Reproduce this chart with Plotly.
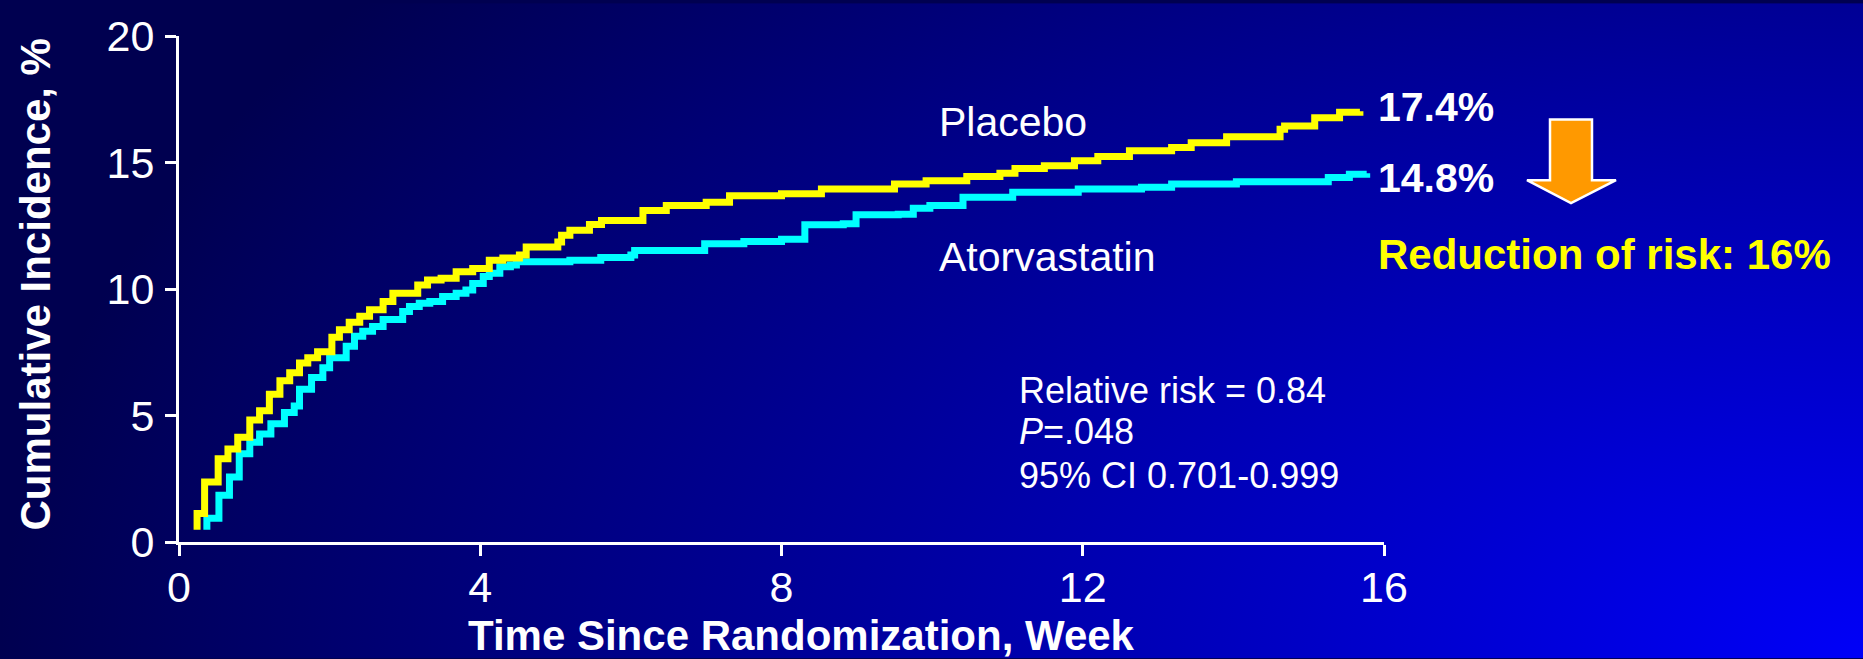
import base64
import plotly.graph_objects as go

# ---------------- data ----------------
placebo_weeks = [0.24, 0.24, 0.34, 0.52, 0.65, 0.78, 0.94, 1.07, 1.20, 1.34, 1.47, 1.60, 1.71, 1.84,
                 2.03, 2.13, 2.26, 2.40, 2.53, 2.71, 2.84, 3.17, 3.30, 3.48, 3.68, 3.90, 4.12, 4.30,
                 4.52, 4.61, 5.03, 5.08, 5.19, 5.45, 5.61, 6.16, 6.47, 7.00, 7.31, 8.00, 8.53, 9.50,
                 9.92, 10.46, 10.90, 11.10, 11.49, 11.89, 12.20, 12.62, 13.18, 13.44, 13.91, 14.62,
                 14.68, 15.08, 15.41, 15.68]
placebo_incidence = [0.48, 1.13, 2.37, 3.29, 3.68, 4.14, 4.82, 5.19, 5.84, 6.37, 6.69, 7.08, 7.28, 7.52,
                     8.09, 8.39, 8.69, 8.92, 9.18, 9.51, 9.83, 10.16, 10.36, 10.42, 10.68, 10.81, 11.14,
                     11.23, 11.34, 11.66, 11.86, 12.12, 12.32, 12.55, 12.71, 13.10, 13.30, 13.43, 13.69,
                     13.76, 13.95, 14.15, 14.28, 14.45, 14.58, 14.76, 14.87, 15.07, 15.24, 15.46, 15.59,
                     15.78, 16.02, 16.31, 16.44, 16.77, 16.99, 17.03]

atorva_weeks = [0.37, 0.37, 0.53, 0.67, 0.80, 0.94, 1.07, 1.22, 1.40, 1.53, 1.60, 1.76, 1.91, 2.00,
                2.22, 2.33, 2.44, 2.57, 2.71, 2.97, 3.06, 3.19, 3.33, 3.50, 3.68, 3.81, 3.90, 4.04,
                4.12, 4.26, 4.40, 4.48, 5.19, 5.60, 6.00, 6.05, 6.98, 7.50, 8.00, 8.31, 8.82, 8.99,
                9.55, 9.75, 9.97, 10.41, 11.07, 11.94, 12.78, 13.18, 14.04, 15.26, 15.54, 15.77]
atorva_incidence = [0.48, 0.94, 1.85, 2.57, 3.49, 3.94, 4.27, 4.67, 5.12, 5.38, 6.04, 6.50, 6.89, 7.28,
                    7.74, 8.13, 8.33, 8.52, 8.79, 9.11, 9.31, 9.44, 9.51, 9.70, 9.83, 9.96, 10.22, 10.49,
                    10.62, 10.88, 10.95, 11.08, 11.14, 11.25, 11.34, 11.52, 11.79, 11.88, 11.97, 12.54,
                    12.58, 12.93, 12.95, 13.19, 13.30, 13.63, 13.82, 13.95, 14.02, 14.15, 14.24, 14.41,
                    14.54, 14.58]

x_tick_vals = [0, 4, 8, 12, 16]
y_tick_vals = [0, 5, 10, 15, 20]

series_labels = ["Placebo", "Atorvastatin"]
end_labels = ["17.4%", "14.8%"]
stats_lines = ["Relative risk = 0.84", "<i>P</i>=.048", "95% CI 0.701-0.999"]
reduction_label = "Reduction of risk: 16%"
x_title = "Time Since Randomization, Week"
y_title = "Cumulative Incidence, %"

# ---------------- layout geometry ----------------
W, H = 1863, 659
L, R, T, B = 179, 479, 33, 117
PW, PH = W - L - R, H - T - B
FONT = "Liberation Sans, Arial, Helvetica, sans-serif"


def pxx(x):
    return (x - L) / PW


def pxy(y):
    return (H - B - y) / PH


# background gradient as an inline SVG image
svg = (
    '<svg xmlns="http://www.w3.org/2000/svg" width="1863" height="659" viewBox="0 0 1863 659" '
    'preserveAspectRatio="none"><defs>'
    '<radialGradient id="g" gradientUnits="userSpaceOnUse" cx="1863" cy="659" r="1863" '
    'gradientTransform="translate(1863 659) scale(1 0.6) translate(-1863 -659)">'
    '<stop offset="0" stop-color="#0000F8"/><stop offset="1" stop-color="#000050"/>'
    '</radialGradient></defs><rect width="1863" height="659" fill="url(#g)"/></svg>'
)
bg_src = "data:image/svg+xml;base64," + base64.b64encode(svg.encode()).decode()

fig = go.Figure()
fig.add_trace(go.Scatter(x=atorva_weeks, y=atorva_incidence, mode="lines",
                         line=dict(color="#00FFFF", width=7, shape="hv"),
                         name=series_labels[1], hoverinfo="skip"))
fig.add_trace(go.Scatter(x=placebo_weeks, y=placebo_incidence, mode="lines",
                         line=dict(color="#FFFF00", width=7, shape="hv"),
                         name=series_labels[0], hoverinfo="skip"))

axis_common = dict(showgrid=False, zeroline=False, showline=True, linecolor="white", linewidth=3,
                   ticks="outside", ticklen=11, tickwidth=3, tickcolor="white",
                   tickfont=dict(family=FONT, size=43, color="white"), fixedrange=True)

fig.update_layout(
    width=W, height=H,
    margin=dict(l=L, r=R, t=T, b=B, pad=0),
    paper_bgcolor="#000050",
    plot_bgcolor="rgba(0,0,0,0)",
    showlegend=False,
    xaxis=dict(range=[0, 16], tickvals=x_tick_vals, ticklabelstandoff=-6, **axis_common),
    yaxis=dict(range=[0, 20], tickvals=y_tick_vals, ticklabelstandoff=2, **axis_common),
    images=[dict(source=bg_src, xref="paper", yref="paper", x=pxx(0), y=pxy(0),
                 sizex=W / PW, sizey=H / PH, xanchor="left", yanchor="top",
                 sizing="stretch", layer="below")],
)

ann = []
# axis titles
ann.append(dict(text="<b>" + x_title + "</b>", x=pxx(801), y=pxy(636), xref="paper", yref="paper",
                showarrow=False, xanchor="center", yanchor="middle",
                font=dict(family=FONT, size=42, color="white")))
ann.append(dict(text="<b>" + y_title + "</b>", x=pxx(36), y=pxy(283), xref="paper", yref="paper",
                showarrow=False, xanchor="center", yanchor="middle", textangle=-90,
                font=dict(family=FONT, size=42, color="white")))
# series labels
ann.append(dict(text=series_labels[0], x=pxx(937), y=pxy(120), xref="paper", yref="paper",
                showarrow=False, xanchor="left", yanchor="middle",
                font=dict(family=FONT, size=41, color="white")))
ann.append(dict(text=series_labels[1], x=pxx(937), y=pxy(255), xref="paper", yref="paper",
                showarrow=False, xanchor="left", yanchor="middle",
                font=dict(family=FONT, size=41, color="white")))
# end values
ann.append(dict(text="<b>" + end_labels[0] + "</b>", x=pxx(1376), y=pxy(104), xref="paper", yref="paper",
                showarrow=False, xanchor="left", yanchor="middle",
                font=dict(family=FONT, size=41, color="white")))
ann.append(dict(text="<b>" + end_labels[1] + "</b>", x=pxx(1376), y=pxy(176), xref="paper", yref="paper",
                showarrow=False, xanchor="left", yanchor="middle",
                font=dict(family=FONT, size=41, color="white")))
ann.append(dict(text="<b>" + reduction_label + "</b>", x=pxx(1376), y=pxy(253), xref="paper", yref="paper",
                showarrow=False, xanchor="left", yanchor="middle",
                font=dict(family=FONT, size=42, color="#FFFF00")))
# stats block
for line, yc in zip(stats_lines, [390, 431, 475]):
    ann.append(dict(text=line, x=pxx(1017), y=pxy(yc), xref="paper", yref="paper",
                    showarrow=False, xanchor="left", yanchor="middle",
                    font=dict(family=FONT, size=36, color="white")))
fig.update_layout(annotations=ann)

# down arrow
pts = [(1550, 117), (1592, 117), (1592, 178), (1616, 178), (1571, 201), (1527, 178), (1550, 178)]
path = "M " + " L ".join(f"{pxx(a):.5f},{pxy(b):.5f}" for a, b in pts) + " Z"
fig.add_shape(type="path", path=path, xref="paper", yref="paper",
              fillcolor="#FF9900", line=dict(color="white", width=2.5), layer="above")

fig.write_html("out.html", config={"displayModeBar": False})
